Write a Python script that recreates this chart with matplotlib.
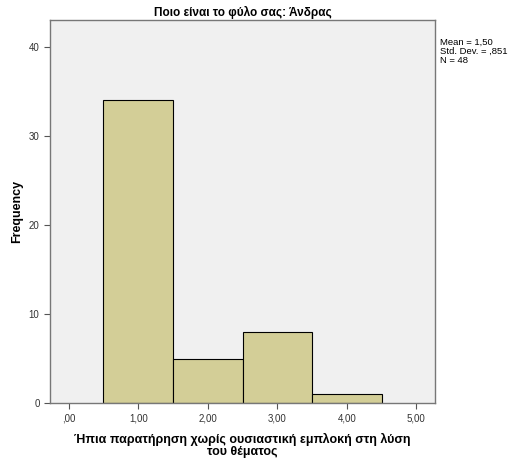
import matplotlib.pyplot as plt
import numpy as np

plt.rcParams['font.family'] = ['Liberation Sans', 'DejaVu Sans']

# histogram bins (centres) and counts
bin_centers = [1.0, 2.0, 3.0, 4.0]
counts = [34, 5, 8, 1]
xticks = [0, 1, 2, 3, 4, 5]
xtick_labels = [',00', '1,00', '2,00', '3,00', '4,00', '5,00']
yticks = [0, 10, 20, 30, 40]
stats_text = 'Mean = 1,50\nStd. Dev. = ,851\nN = 48'

fig = plt.figure(figsize=(5.15, 4.58), dpi=100)
ax = fig.add_axes([0.097, 0.12, 0.748, 0.836])
ax.set_facecolor('#f0f0f0')

ax.bar(bin_centers, counts, width=1.0, color='#d3ce97', edgecolor='black', linewidth=0.8)

ax.set_xlim(-0.27, 5.27)
ax.set_ylim(0, 43)
ax.set_xticks(xticks)
ax.set_xticklabels(xtick_labels)
ax.set_yticks(yticks)
ax.tick_params(labelsize=7, length=4, width=0.8, color='#555555', labelcolor='#333333')
for s in ax.spines.values():
    s.set_color('#777777')
    s.set_linewidth(1.0)

ax.set_xlabel('Ήπια παρατήρηση χωρίς ουσιαστική εμπλοκή στη λύση\nτου θέματος',
              fontsize=9, fontweight='bold', labelpad=7, linespacing=1.0)
ax.set_ylabel('Frequency', fontsize=9, fontweight='bold', labelpad=4)
ax.set_title('Ποιο είναι το φύλο σας: Άνδρας', fontsize=8.5, fontweight='bold', pad=3)

fig.text(0.855, 0.918, stats_text, fontsize=6.8, va='top', ha='left', linespacing=1.0)

fig.savefig('out.png', dpi=100)
